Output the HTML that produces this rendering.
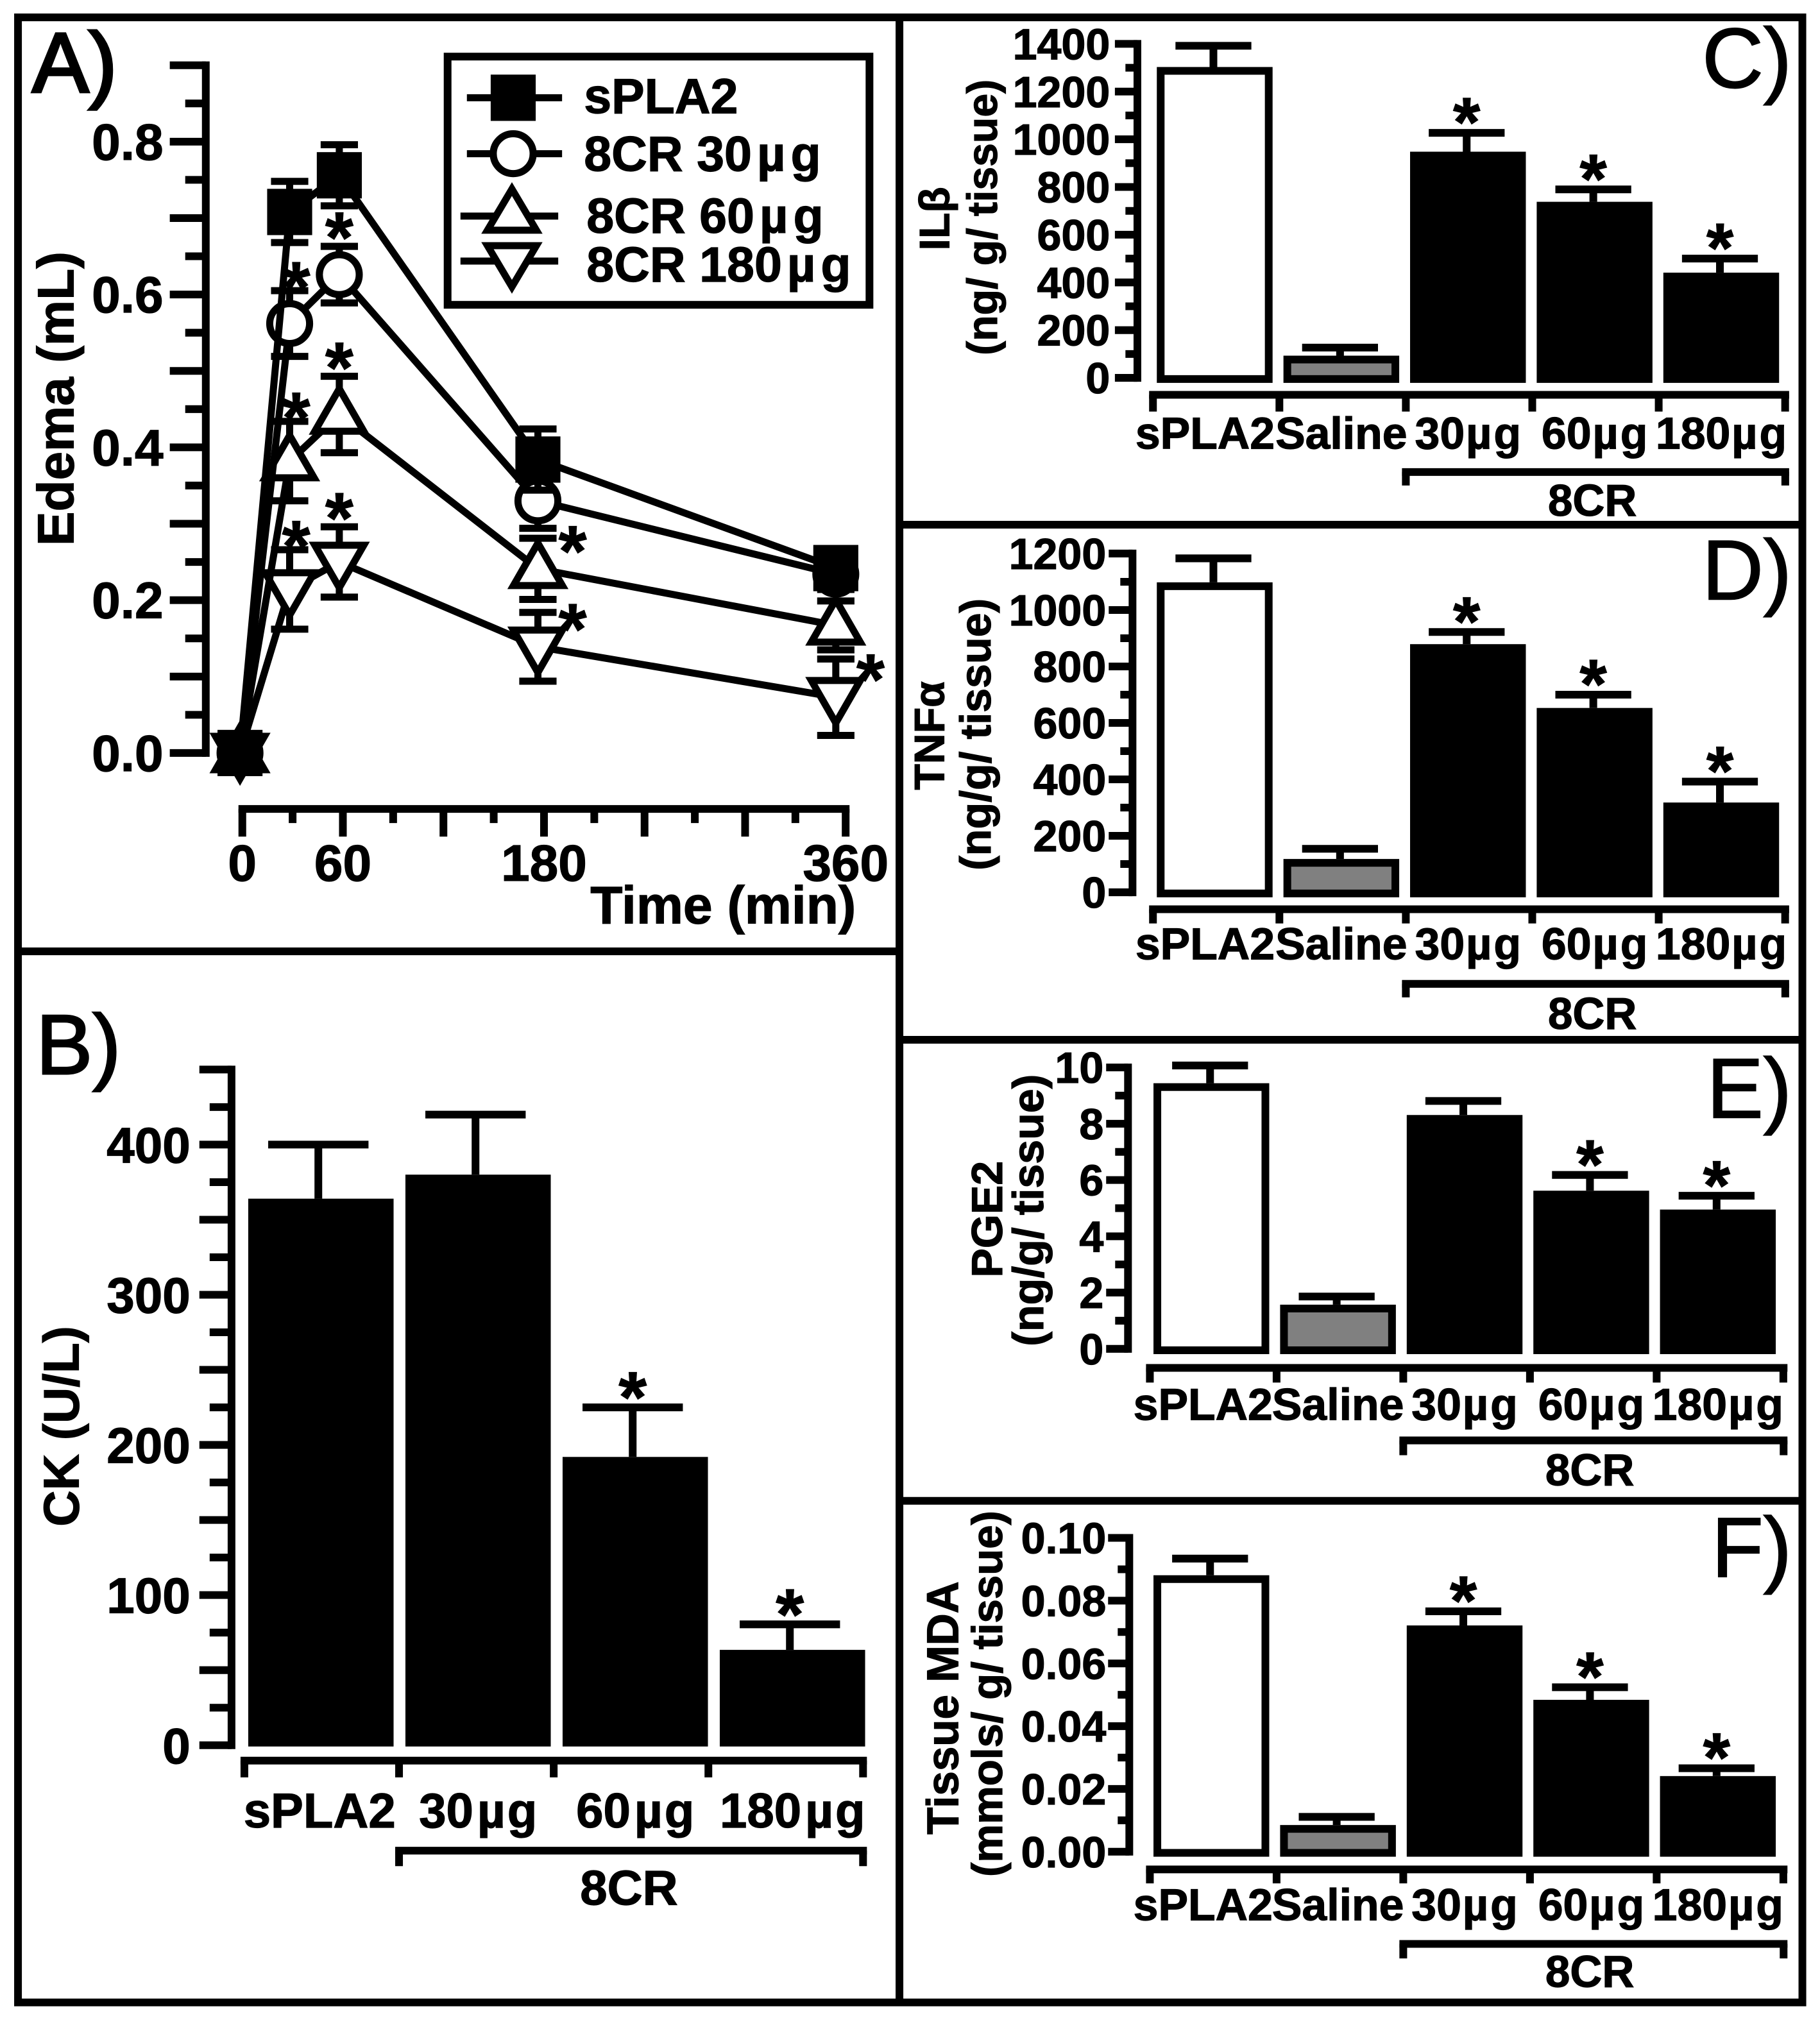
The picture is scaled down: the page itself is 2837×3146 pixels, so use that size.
<!DOCTYPE html>
<html lang="en">
<head>
<meta charset="utf-8">
<title>Edema, CK and inflammatory markers</title>
<style>
  html, body { margin: 0; padding: 0; background: #fff; }
  svg { display: block; }
  text { font-family: "Liberation Sans", "DejaVu Sans", sans-serif; font-weight: bold; fill: #000; stroke: #000; stroke-width: .6px; }
  .letter { font-weight: normal; font-size: 66px; stroke-width: .9px; }
</style>
</head>
<body>
<svg id="chart" xmlns="http://www.w3.org/2000/svg" width="2837" height="3146" viewBox="0 0 1415 1569.1">
  <rect x="0" y="0" width="1415" height="1570" fill="#fff"/>
  <g fill="none" stroke="#000" stroke-width="6">
    <rect x="14" y="13.5" width="1387.3" height="1543.5"/>
    <line x1="699.3" y1="13.5" x2="699.3" y2="1557"/>
    <line x1="14" y1="739.7" x2="699.3" y2="739.7"/>
    <line x1="699.3" y1="408" x2="1401.3" y2="408"/>
    <line x1="699.3" y1="808.500" x2="1401.3" y2="808.500"/>
    <line x1="699.3" y1="1167" x2="1401.3" y2="1167"/>
  </g>

  <text class="letter" x="25" y="71.500" style="stroke-width:2px">A)</text>
  <text class="letter" x="28" y="835" style="stroke-width:1.300px">B)</text>
  <text class="letter" x="1393" y="68" text-anchor="end">C)</text>
  <text class="letter" x="1393" y="466" text-anchor="end">D)</text>
  <text class="letter" x="1393" y="869" text-anchor="end">E)</text>
  <text class="letter" x="1393" y="1226" text-anchor="end">F)</text>

  <text font-size="40" text-anchor="middle" transform="translate(57 310) rotate(-90)">Edema (mL)</text>
  <text font-size="41" x="459" y="718">Time (min)</text>

  <text font-size="39" text-anchor="middle" transform="translate(61 1109) rotate(-90)">CK (U/L)</text>
  <text font-size="38" text-anchor="middle" x="489" y="1481">8CR</text>

  <text font-size="33" text-anchor="middle" transform="translate(738 170) rotate(-90)">ILβ</text>
  <text font-size="33" text-anchor="middle" transform="translate(775 169) rotate(-90)">(ng/ g/ tissue)</text>
  <text font-size="34.5" text-anchor="middle" x="1238" y="401">8CR</text>

  <text font-size="33" text-anchor="middle" transform="translate(734 572) rotate(-90)">TNFα</text>
  <text font-size="34" text-anchor="middle" transform="translate(770 571) rotate(-90)">(ng/g/ tissue)</text>
  <text font-size="34.5" text-anchor="middle" x="1238" y="800">8CR</text>

  <text font-size="34" text-anchor="middle" transform="translate(779 948) rotate(-90)">PGE2</text>
  <text font-size="34" text-anchor="middle" transform="translate(811 941) rotate(-90)">(ng/g/ tissue)</text>
  <text font-size="34.5" text-anchor="middle" x="1236" y="1155">8CR</text>

  <text font-size="34.5" text-anchor="middle" transform="translate(745 1328) rotate(-90)">Tissue MDA</text>
  <text font-size="33.5" text-anchor="middle" transform="translate(779 1317) rotate(-90)">(mmols/ g/ tissue)</text>
  <text font-size="34.5" text-anchor="middle" x="1236" y="1545">8CR</text>

  <g id="panelA"></g>
  <g id="panelB"></g>
  <g id="panelC"></g>
  <g id="panelD"></g>
  <g id="panelE"></g>
  <g id="panelF"></g>

  <g>
    <rect x="348" y="44" width="328" height="193" fill="#fff" stroke="#000" stroke-width="6"/>
    <g>
      <line x1="363" y1="76" x2="437" y2="76" stroke="#000" stroke-width="5.500"/>
      <rect x="381.500" y="58" width="35" height="36" fill="#000"/>
      <text font-size="38.500" x="454" y="88">sPLA2</text>
    </g>
    <g>
      <line x1="363" y1="119.500" x2="437" y2="119.500" stroke="#000" stroke-width="5.500"/>
      <circle cx="399" cy="119.500" r="15.500" fill="#fff" stroke="#000" stroke-width="5.500"/>
      <text font-size="38.500" x="454" y="133">8CR 30<tspan dx="4">µ</tspan><tspan dx="4">g</tspan></text>
    </g>
    <g>
      <line x1="358" y1="168" x2="434" y2="168" stroke="#000" stroke-width="5.500"/>
      <polygon points="398,147 417,179 379,179" fill="#fff" stroke="#000" stroke-width="5.500"/>
      <text font-size="38.500" x="456" y="181">8CR 60<tspan dx="4">µ</tspan><tspan dx="4">g</tspan></text>
    </g>
    <g>
      <line x1="358" y1="203" x2="434" y2="203" stroke="#000" stroke-width="5.500"/>
      <polygon points="379,191 417,191 398,223" fill="#fff" stroke="#000" stroke-width="5.500"/>
      <text font-size="38.500" x="456" y="219">8CR 180<tspan dx="4">µ</tspan><tspan dx="4">g</tspan></text>
    </g>
  </g>
</svg>

<script>
/* ---------- Panel A data ---------- */
const aTimes = [0, 30, 60, 180, 360];
const aSpla2 = [0, 0.708, 0.756, 0.384, 0.242];
const aSpla2Err = [0.01, 0.040, 0.040, 0.040, 0.020];
const a30 = [0, 0.562, 0.626, 0.330, 0.234];
const a30Err = [0.01, 0.043, 0.037, 0.036, 0.020];
const a30Stars = [0, 1, 1, 0, 0];
const a60 = [0, 0.382, 0.443, 0.241, 0.167];
const a60Err = [0.01, 0.052, 0.050, 0.040, 0.032];
const a60Stars = [0, 1, 1, 1, 0];
const a180 = [0, 0.214, 0.250, 0.139, 0.073];
const a180Err = [0.01, 0.052, 0.046, 0.045, 0.050];
const a180Stars = [0, 1, 1, 1, 1];
const aYTickLabels = ['0.0', '0.2', '0.4', '0.6', '0.8'];
const aXTickLabels = ['0', '60', '180', '360'];

/* ---------- Panel B data ---------- */
const bCategories = ['sPLA2', '30µg', '60µg', '180µg'];
const bValues = [364, 380, 192, 63.5];
const bErrors = [36, 40, 33, 17];
const bStars = [0, 0, 1, 1];
const bTickLabels = ['0', '100', '200', '300', '400'];

/* ---------- Panels C-F data ---------- */
const tissueCategories = ['sPLA2', 'Saline', '30µg', '60µg', '180µg'];

const cValues = [1303, 93, 948, 738, 441];
const cErrors = [89, 34, 79, 52, 59];
const cStars = [0, 0, 1, 1, 1];
const cTickLabels = ['0', '200', '400', '600', '800', '1000', '1200', '1400'];

const dValues = [1098, 118, 879, 653, 318];
const dErrors = [85, 36, 43, 47, 74];
const dStars = [0, 0, 1, 1, 1];
const dTickLabels = ['0', '200', '400', '600', '800', '1000', '1200'];

const eValues = [9.44, 1.57, 8.31, 5.62, 4.95];
const eErrors = [0.63, 0.29, 0.50, 0.56, 0.49];
const eStars = [0, 0, 0, 1, 1];
const eTickLabels = ['0', '2', '4', '6', '8', '10'];

const fValues = [0.0881, 0.0085, 0.0721, 0.0484, 0.0241];
const fErrors = [0.0053, 0.0026, 0.0045, 0.0040, 0.0025];
const fStars = [0, 0, 1, 1, 1];
const fTickLabels = ['0.00', '0.02', '0.04', '0.06', '0.08', '0.10'];

/* ---------- Helpers ---------- */
const NS = 'http://www.w3.org/2000/svg';
function mk(tag, attrs, parent) {
  const n = document.createElementNS(NS, tag);
  for (const k in attrs) n.setAttribute(k, attrs[k]);
  parent.appendChild(n);
  return n;
}
function drawLine(parent, x1, y1, x2, y2, w, name) {
  const l = mk('line', { x1: x1, y1: y1, x2: x2, y2: y2, stroke: '#000', 'stroke-width': w }, parent);
  
  
  return l;
}
function drawText(parent, str, x, y, size, anchor, name) {
  const t = mk('text', { x: x, y: y, 'font-size': size, 'text-anchor': anchor }, parent);
  const idx = str.indexOf('µ');
  if (idx >= 0) {
    t.appendChild(document.createTextNode(str.slice(0, idx)));
    const mu = mk('tspan', { dx: size > 36 ? 3 : 1 }, t);
    mu.textContent = 'µ';
    const rest = mk('tspan', { dx: size > 36 ? 1.5 : 1.5 }, t);
    rest.textContent = str.slice(idx + 1);
  } else {
    t.textContent = str;
  }
  
  
  return t;
}
function drawStar(parent, x, cy, size, name) {
  const t = mk('text', { x: x, y: cy + size * 0.51, 'font-size': size, 'text-anchor': 'middle' }, parent);
  t.textContent = '*';
  
  
  return t;
}
function drawYAxis(parent, o) {
  const n = Math.round(o.max / o.shortStep);
  drawLine(parent, o.x, o.y(o.max) - o.w / 2, o.x, o.y(0) + o.w / 2, o.w, 'y-axis-line');
  for (let i = 0; i <= n; i++) {
    const v = i * o.shortStep;
    const isLong = i % o.longEvery === 0;
    drawLine(parent, isLong ? o.longX : o.shortX, o.y(v), o.x, o.y(v), o.w, isLong ? 'y-axis-major-tick' : 'y-axis-minor-tick');
  }
  o.labels.forEach(function (lab) {
    drawText(parent, lab, o.labelX, o.y(parseFloat(lab)) + o.labelDy, o.size, 'end', 'y-tick-label');
  });
}
function drawBarPanel(id, o) {
  const parent = document.getElementById(id);
  const y = function (v) { return o.y0 - v * o.k; };
  drawYAxis(parent, { x: o.axisX, y: y, max: o.max, shortStep: o.shortStep, longEvery: o.longEvery, w: o.axisW, longX: o.longX, shortX: o.shortX, labels: o.tickLabels, labelX: o.labelX, labelDy: o.labelDy, size: o.size });

  const barLeft = function (i) { return o.barX0 + i * o.barStep; };
  o.values.forEach(function (v, i) {
    const cx = barLeft(i) + o.barW / 2 + o.capShift;
    const top = y(v + o.errors[i]);
    drawLine(parent, cx, y(v), cx, top, o.errW, 'error-bar-stem');
    drawLine(parent, cx - o.capW / 2, top, cx + o.capW / 2, top, o.errW, 'error-bar-cap');
    const style = o.fills[i];
    const inset = style.stroke ? 3 : 0;
    const bar = mk('rect', {
      x: barLeft(i) + inset,
      y: y(v) + inset,
      width: o.barW - 2 * inset,
      height: o.y0 + o.barDrop - y(v) - 2 * inset,
      fill: style.fill,
      stroke: style.stroke ? '#000' : 'none',
      'stroke-width': style.stroke ? 6 : 0
    }, parent);
    
    
    if (o.stars[i]) drawStar(parent, cx, top - 17, o.starSize, 'significance-star');
  });

  drawLine(parent, o.xAxisX0 - 3, o.xAxisY, o.xAxisX1 + 3, o.xAxisY, o.axisW, 'x-axis-line');
  const tickX = function (i) { return o.xAxisX0 + i * o.xAxisStep; };
  for (let i = 0; i <= o.values.length; i++) {
    drawLine(parent, tickX(i), o.xAxisY, tickX(i), o.xTickEnd, o.axisW, 'x-axis-tick');
  }
  o.categories.forEach(function (c, i) {
    const shift = i === 0 ? o.firstLabelShift : o.labelShift;
    drawText(parent, c, barLeft(i) + o.barW / 2 + shift, o.xLabelY, o.xLabelSize, 'middle', 'x-tick-label-' + c);
  });
  const bStart = tickX(o.bracketFrom);
  drawLine(parent, bStart - 3, o.bracketY, o.xAxisX1 + 3, o.bracketY, o.axisW, 'treatment-bracket');
  drawLine(parent, bStart, o.bracketY, bStart, o.bracketEnd, o.axisW, 'treatment-bracket-left-tick');
  drawLine(parent, o.xAxisX1, o.bracketY, o.xAxisX1, o.bracketEnd, o.axisW, 'treatment-bracket-right-tick');
}

/* ---------- Panel A ---------- */
(function () {
  const parent = document.getElementById('panelA');
  const yA = function (v) { return 585.5 - v * 594.2; };
  const xMark = function (t) { return 186.6 + t * 1.2867; };
  const xAxis = function (t) { return 188.4 + t * 1.303; };

  drawYAxis(parent, { x: 160, y: yA, max: 0.9, shortStep: 0.05, longEvery: 2, w: 6, longX: 132, shortX: 144, labels: aYTickLabels, labelX: 127, labelDy: 14, size: 40 });

  drawLine(parent, xAxis(0) - 3, 629, xAxis(360) + 3, 629, 6, 'x-axis-line');
  for (let t = 0; t <= 360; t += 30) {
    drawLine(parent, xAxis(t), 629, xAxis(t), t % 60 === 0 ? 650.5 : 640, 6, t % 60 === 0 ? 'x-axis-major-tick' : 'x-axis-minor-tick');
  }
  aXTickLabels.forEach(function (lab) {
    drawText(parent, lab, xAxis(+lab), 684.8, 40, 'middle', 'x-tick-label');
  });

  const w = 5.5;
  function series(name, values, errs, stars, marker) {
    const g = mk('g', {}, parent);
    
    
    const pts = values.map(function (v, i) { return xMark(aTimes[i]) + ',' + yA(v); }).join(' ');
    const line = mk('polyline', { points: pts, fill: 'none', stroke: '#000', 'stroke-width': w }, g);
    
    
    values.forEach(function (v, i) {
      const x = xMark(aTimes[i]);
      const top = yA(v + errs[i]);
      const bot = yA(v - errs[i]);
      drawLine(g, x, top, x, bot, w, 'error-bar-stem');
      drawLine(g, x - 14.5, top, x + 14.5, top, w, 'error-bar-cap');
      drawLine(g, x - 14.5, bot, x + 14.5, bot, w, 'error-bar-cap');
    });
    values.forEach(function (v, i) {
      const x = xMark(aTimes[i]);
      const y = yA(v);
      const m = marker(g, x, y);
      
      
      if (stars && stars[i]) {
        const t = aTimes[i];
        if (t >= 180) drawStar(g, x + 27, y - 23, 56, 'significance-star');
        else drawStar(g, x + (t === 30 ? 5 : 0), yA(v + errs[i]) - (t === 30 ? 12 : 16), 56, 'significance-star');
      }
    });
  }
  const upMarker = function (g, x, y) {
    return mk('polygon', { points: x + ',' + (y - 20) + ' ' + (x + 19) + ',' + (y + 13) + ' ' + (x - 19) + ',' + (y + 13), fill: '#fff', stroke: '#000', 'stroke-width': w }, g);
  };
  const downMarker = function (g, x, y) {
    return mk('polygon', { points: (x - 19) + ',' + (y - 13) + ' ' + (x + 19) + ',' + (y - 13) + ' ' + x + ',' + (y + 20), fill: '#fff', stroke: '#000', 'stroke-width': w }, g);
  };
  const circleMarker = function (g, x, y) {
    return mk('circle', { cx: x, cy: y, r: 15.5, fill: '#fff', stroke: '#000', 'stroke-width': w }, g);
  };
  const squareMarker = function (g, x, y) {
    return mk('rect', { x: x - 17.5, y: y - 18, width: 35, height: 36, fill: '#000' }, g);
  };
  series('8cr-180', a180, a180Err, a180Stars, downMarker);
  series('8cr-60', a60, a60Err, a60Stars, upMarker);
  series('8cr-30', a30, a30Err, a30Stars, circleMarker);
  series('spla2', aSpla2, aSpla2Err, null, squareMarker);
})();

/* ---------- Panel B ---------- */
const blackFill = { fill: '#000', stroke: false };
const whiteFill = { fill: '#fff', stroke: true };
const grayFill = { fill: '#808080', stroke: true };
drawBarPanel('panelB', {
  categories: bCategories, values: bValues, errors: bErrors, stars: bStars, tickLabels: bTickLabels,
  fills: [blackFill, blackFill, blackFill, blackFill],
  y0: 1357, k: 1.1675, max: 450, shortStep: 25, longEvery: 2,
  axisX: 180, axisW: 6, longX: 155, shortX: 163, labelX: 148, labelDy: 14, size: 39,
  barX0: 193, barStep: 122.2, barW: 113, barDrop: 1, capW: 78, errW: 6, capShift: -2, labelShift: 0, firstLabelShift: -1, starSize: 56,
  xAxisX0: 190, xAxisX1: 671, xAxisStep: 120.25, xAxisY: 1369, xTickEnd: 1382,
  xLabelY: 1421, xLabelSize: 38, bracketFrom: 1, bracketY: 1439, bracketEnd: 1451
});

/* ---------- Panels C-F ---------- */
const tissueFills = [whiteFill, grayFill, blackFill, blackFill, blackFill];
drawBarPanel('panelC', {
  categories: tissueCategories, values: cValues, errors: cErrors, stars: cStars, tickLabels: cTickLabels, fills: tissueFills,
  y0: 293.8, k: 0.1855, max: 1400, shortStep: 100, longEvery: 2,
  axisX: 884.3, axisW: 6, longX: 866.8, shortX: 875, labelX: 863, labelDy: 12, size: 34,
  barX0: 899.4, barStep: 98.45, barW: 90, barDrop: 3.9, capW: 59, errW: 6, capShift: -1, labelShift: 0, firstLabelShift: -7.5, starSize: 54,
  xAxisX0: 896.4, xAxisX1: 1388, xAxisStep: 98.3, xAxisY: 307, xTickEnd: 320,
  xLabelY: 348.8, xLabelSize: 34.8, bracketFrom: 2, bracketY: 367, bracketEnd: 377.5
});
drawBarPanel('panelD', {
  categories: tissueCategories, values: dValues, errors: dErrors, stars: dStars, tickLabels: dTickLabels, fills: tissueFills,
  y0: 693.8, k: 0.2195, max: 1200, shortStep: 100, longEvery: 2,
  axisX: 880.5, axisW: 6, longX: 862, shortX: 871, labelX: 860, labelDy: 12, size: 34,
  barX0: 899.4, barStep: 98.45, barW: 90, barDrop: 3.9, capW: 59, errW: 6, capShift: -1, labelShift: 0, firstLabelShift: -7.5, starSize: 54,
  xAxisX0: 896.4, xAxisX1: 1388, xAxisStep: 98.3, xAxisY: 707, xTickEnd: 718,
  xLabelY: 746, xLabelSize: 34.8, bracketFrom: 2, bracketY: 765, bracketEnd: 775.5
});
drawBarPanel('panelE', {
  categories: tissueCategories, values: eValues, errors: eErrors, stars: eStars, tickLabels: eTickLabels, fills: tissueFills,
  y0: 1048.8, k: 21.88, max: 10, shortStep: 1, longEvery: 2,
  axisX: 877, axisW: 6, longX: 860, shortX: 867, labelX: 858, labelDy: 12, size: 34,
  barX0: 896.8, barStep: 98.45, barW: 90, barDrop: 4.1, capW: 59, errW: 6, capShift: -1, labelShift: 0, firstLabelShift: -6.5, starSize: 54,
  xAxisX0: 894, xAxisX1: 1386.7, xAxisStep: 98.5, xAxisY: 1063.6, xTickEnd: 1075,
  xLabelY: 1104, xLabelSize: 34.8, bracketFrom: 2, bracketY: 1120, bracketEnd: 1131.5
});
drawBarPanel('panelF', {
  categories: tissueCategories, values: fValues, errors: fErrors, stars: fStars, tickLabels: fTickLabels, fills: tissueFills,
  y0: 1439.8, k: 2440, max: 0.1, shortStep: 0.01, longEvery: 2,
  axisX: 878, axisW: 6, longX: 861.5, shortX: 869, labelX: 860, labelDy: 12, size: 34,
  barX0: 896.8, barStep: 98.45, barW: 90, barDrop: 3.9, capW: 59, errW: 6, capShift: -1, labelShift: 0, firstLabelShift: -6.5, starSize: 54,
  xAxisX0: 894, xAxisX1: 1386.7, xAxisStep: 98.5, xAxisY: 1453.6, xTickEnd: 1464.4,
  xLabelY: 1493, xLabelSize: 34.8, bracketFrom: 2, bracketY: 1511.5, bracketEnd: 1522.8
});
</script>
</body>
</html>
